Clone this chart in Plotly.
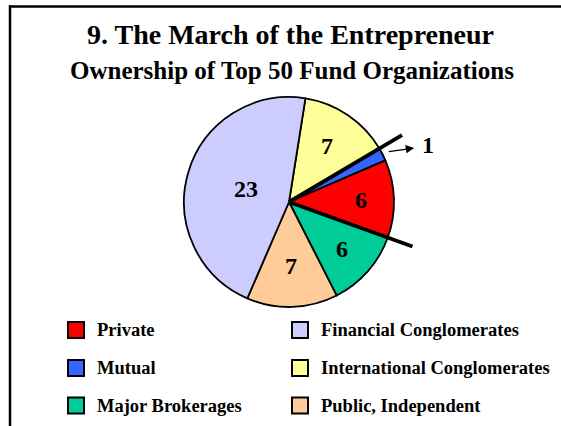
import math
import plotly.graph_objects as go

# ---------------- data ----------------
labels = ["International Conglomerates", "Mutual", "Private",
          "Major Brokerages", "Public, Independent", "Financial Conglomerates"]
values = [7, 1, 6, 6, 7, 23]
colors = ["#FFFF99", "#3366FF", "#FF0000", "#00CC99", "#FFCC99", "#CCCCFF"]
legend_order = ["Private", "Mutual", "Major Brokerages",
                "Financial Conglomerates", "International Conglomerates", "Public, Independent"]
separators_after = ["International Conglomerates", "Private"]
outside_label = "Mutual"
title = "9. The March of the Entrepreneur"
subtitle = "Ownership of Top 50 Fund Organizations"

# ---------------- layout constants ----------------
W, H = 561, 426
cx, cy, R = 289, 202, 105
rotation = 9
FONT = "Liberation Serif, Times New Roman, serif"
label_radius = {"International Conglomerates": 0.64, "Private": 0.69,
                "Major Brokerages": 0.67, "Public, Independent": 0.61,
                "Financial Conglomerates": 0.43}


def px(x, y):
    return x / W, 1 - y / H


def polar(theta_deg, r):
    t = math.radians(theta_deg)
    return cx + r * math.sin(t), cy - r * math.cos(t)


total = sum(values)
starts, mids = {}, {}
acc = 0
for lab, v in zip(labels, values):
    starts[lab] = rotation + acc / total * 360
    mids[lab] = rotation + (acc + v / 2) / total * 360
    acc += v
ends = {lab: starts[lab] + v / total * 360 for lab, v in zip(labels, values)}

fig = go.Figure(go.Pie(
    labels=labels, values=values, sort=False, direction="clockwise",
    rotation=rotation, textinfo="none", hoverinfo="label+value",
    marker=dict(colors=colors, line=dict(color="black", width=1.8)),
    domain=dict(x=[(cx - R) / W, (cx + R) / W], y=[1 - (cy + R) / H, 1 - (cy - R) / H]),
    showlegend=False,
))

shapes = []
annotations = []

# frame
x0, y0 = px(9, 6.5)
x1, y1 = px(W, 6.5)
shapes.append(dict(type="line", xref="paper", yref="paper", x0=x0, y0=y0, x1=x1, y1=y1,
                   line=dict(color="black", width=2.5)))
x0, y0 = px(10, 5.3)
x1, y1 = px(10, H)
shapes.append(dict(type="line", xref="paper", yref="paper", x0=x0, y0=y0, x1=x1, y1=y1,
                   line=dict(color="black", width=2.5)))

# separator lines along slice boundaries
for lab in separators_after:
    ex, ey = polar(ends[lab], 1.25 * R)
    a0 = px(cx, cy)
    a1 = px(ex, ey)
    shapes.append(dict(type="line", xref="paper", yref="paper", x0=a0[0], y0=a0[1],
                       x1=a1[0], y1=a1[1], line=dict(color="black", width=3.8)))

# inside value labels
for lab, v in zip(labels, values):
    if lab == outside_label:
        continue
    tx, ty = polar(mids[lab], label_radius[lab] * R)
    p = px(tx, ty)
    annotations.append(dict(x=p[0], y=p[1], xref="paper", yref="paper", text=f"<b>{v}</b>",
                            showarrow=False, font=dict(family=FONT, size=24, color="black"),
                            xanchor="center", yanchor="middle"))

# outside label with arrow
tx, ty = polar(mids[outside_label], 1.05 * R)
tip = (tx + 27, ty - 4)
p = px(*tip)
annotations.append(dict(x=p[0], y=p[1], xref="paper", yref="paper", text="", showarrow=True,
                        ax=-27, ay=4, arrowhead=2, arrowsize=1.3, arrowwidth=1.3,
                        arrowcolor="black", standoff=0, startstandoff=0))
p = px(tip[0] + 14, tip[1] - 3)
annotations.append(dict(x=p[0], y=p[1], xref="paper", yref="paper",
                        text=f"<b>{values[labels.index(outside_label)]}</b>", showarrow=False,
                        font=dict(family=FONT, size=24, color="black"),
                        xanchor="center", yanchor="middle"))

# titles
p = px(290, 35)
annotations.append(dict(x=p[0], y=p[1], xref="paper", yref="paper", text=f"<b>{title}</b>",
                        showarrow=False, font=dict(family=FONT, size=28, color="black"),
                        xanchor="center", yanchor="middle"))
p = px(292, 71)
annotations.append(dict(x=p[0], y=p[1], xref="paper", yref="paper", text=f"<b>{subtitle}</b>",
                        showarrow=False, font=dict(family=FONT, size=25, color="black"),
                        xanchor="center", yanchor="middle"))

# manual legend (two columns)
col_x = [68, 292]
row_y = [330, 368, 405.5]
sq = 16
for i, lab in enumerate(legend_order):
    c, r = divmod(i, 3)
    sx, sy = col_x[c], row_y[r]
    a0 = px(sx, sy - sq / 2)
    a1 = px(sx + sq, sy + sq / 2)
    shapes.append(dict(type="rect", xref="paper", yref="paper", x0=a0[0], y0=a0[1],
                       x1=a1[0], y1=a1[1], fillcolor=colors[labels.index(lab)],
                       line=dict(color="black", width=2)))
    t = px(sx + 27, sy)
    annotations.append(dict(x=t[0], y=t[1], xref="paper", yref="paper", text=f"<b>{lab}</b>",
                            showarrow=False, font=dict(family=FONT, size=18.5, color="black"),
                            xanchor="left", yanchor="middle"))

fig.update_layout(width=W, height=H, margin=dict(l=0, r=0, t=0, b=0),
                  paper_bgcolor="white", plot_bgcolor="white",
                  shapes=shapes, annotations=annotations)

fig.write_html("out.html", config={"displayModeBar": False},
               post_script="document.body.style.margin='0';document.body.style.padding='0';")
